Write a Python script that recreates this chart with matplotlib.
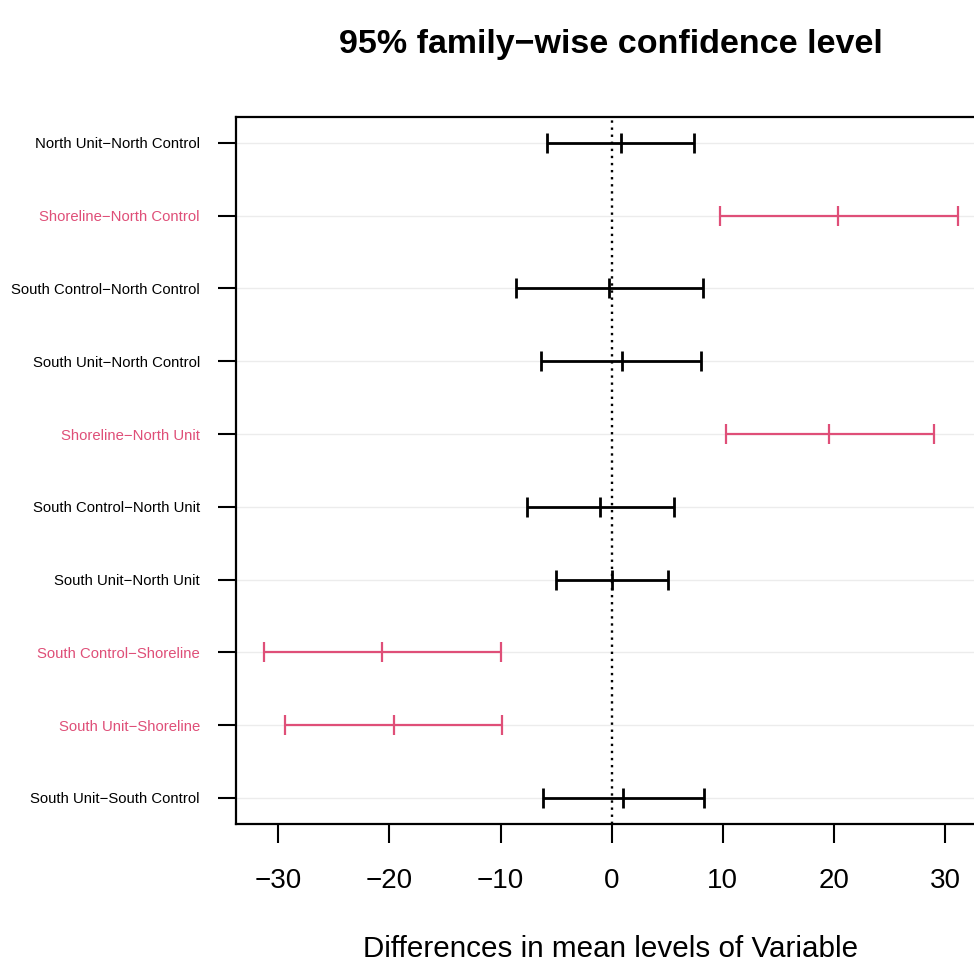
import matplotlib
matplotlib.use("Agg")
import matplotlib.pyplot as plt
import numpy as np

plt.rcParams['font.family'] = ['Liberation Sans', 'DejaVu Sans']

comparisons = ["North Unit\u2212North Control", "Shoreline\u2212North Control",
               "South Control\u2212North Control", "South Unit\u2212North Control",
               "Shoreline\u2212North Unit", "South Control\u2212North Unit",
               "South Unit\u2212North Unit", "South Control\u2212Shoreline",
               "South Unit\u2212Shoreline", "South Unit\u2212South Control"]
diff = [0.83, 20.4, -0.2, 0.9, 19.6, -1.04, 0.05, -20.7, -19.6, 1.06]
lwr = [-5.8, 9.75, -8.6, -6.35, 10.3, -7.64, -4.97, -31.3, -29.35, -6.14]
upr = [7.43, 31.14, 8.2, 8.06, 29.0, 5.6, 5.09, -9.98, -9.84, 8.27]
significant = [False, True, False, False, True, False, False, True, True, False]
xticks = [-30, -20, -10, 0, 10, 20, 30]

PINK = "#DF4F78"
fig = plt.figure(figsize=(9.74, 9.64), dpi=100)
ax = fig.add_axes([0.2423, 0.1452, 0.7695, 0.7337])

ypos = np.arange(1, len(comparisons) + 1)
for y in ypos:
    ax.axhline(y, color="#ececec", lw=1.0, zorder=0)

ax.axvline(0, color="black", lw=1.7, linestyle=(0, (1, 2)), zorder=1)

for y, d, lo, hi, sig in zip(ypos, diff, lwr, upr, significant):
    c = PINK if sig else "black"
    lw = 1.6 if sig else 2.0
    ax.plot([lo, hi], [y, y], color=c, lw=lw, zorder=3, solid_capstyle='butt')
    ax.plot([lo, d, hi], [y, y, y], linestyle='none', marker='|', markersize=15,
            markeredgewidth=lw, color=c, zorder=4)

ax.set_xlim(-33.8, 33.64)
ax.set_ylim(10.36, 0.64)
ax.set_yticks(ypos)
ax.set_yticklabels(comparisons, fontsize=10.7)
for lab, sig in zip(ax.get_yticklabels(), significant):
    lab.set_color(PINK if sig else "black")
ax.set_xticks(xticks)
ax.set_xticklabels([str(t).replace('-', '\u2212') for t in xticks], fontsize=20)
ax.tick_params(axis='y', length=13, width=1.5, pad=13)
ax.tick_params(axis='x', length=14, width=1.5, pad=18)
for s in ax.spines.values():
    s.set_linewidth(1.6)

fig.text(0.6268, 0.9453, "95% family\u2212wise confidence level", ha='center',
         va='baseline', fontsize=24.5, fontweight='bold')
fig.text(0.6268, 0.0073, "Differences in mean levels of Variable", ha='center',
         va='baseline', fontsize=21.3)

fig.savefig("out.png", dpi=100)
